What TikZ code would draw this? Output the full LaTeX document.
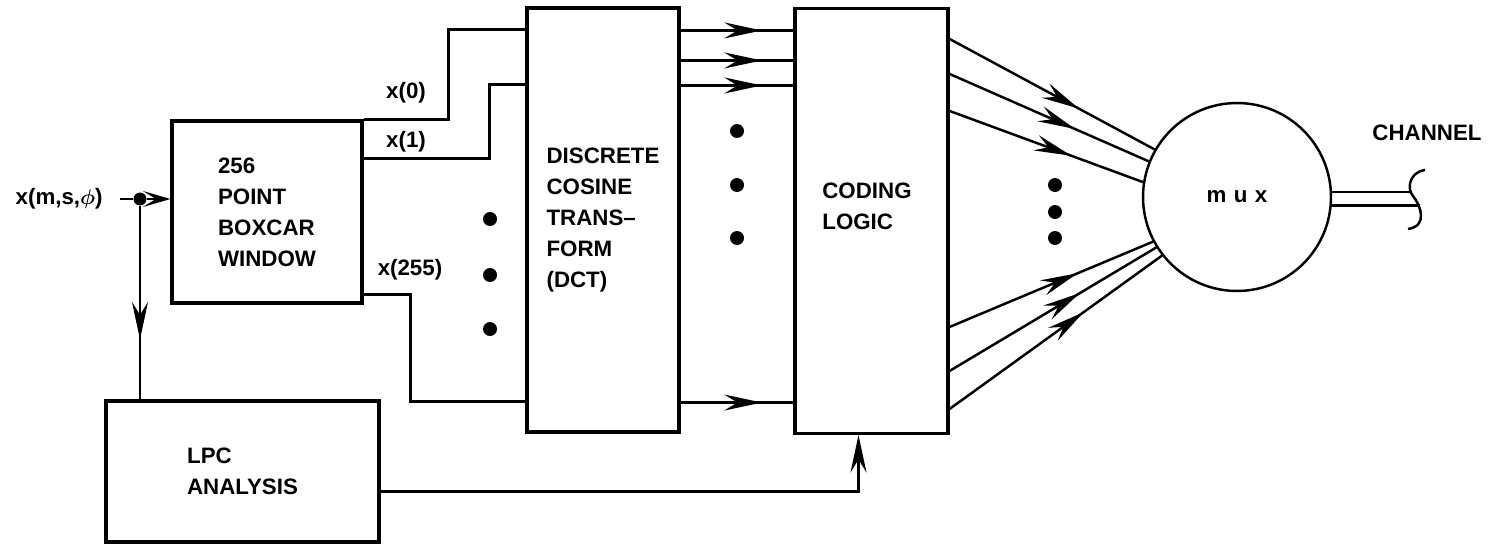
\documentclass[tikz,border=0pt]{standalone}
\usepackage{fontspec}
\setmainfont{Liberation Sans}
\usepackage{amsmath}
\usepackage{tikz}
\usetikzlibrary{arrows.meta,calc,decorations.markings}
\tikzset{
  blk/.style={draw, line width=1.8pt, align=left, inner sep=0pt,
              font=\fontsize{12.7}{17.6}\selectfont\bfseries},
  lbl/.style={inner sep=0pt, align=left, font=\fontsize{12.7}{17.6}\selectfont\bfseries},
  wire/.style={line width=1.4pt},
  endtip/.style={-{Stealth[length=#1,width=3.2mm,inset=2.6mm]}},
  endtip/.default=7.5mm,
  midtip/.style={postaction={decorate},
                 decoration={markings, mark=at position #1 with
                   {\arrow{Stealth[length=7.5mm,width=3.2mm,inset=2.6mm]}}}},
  dot/.style={circle, fill, inner sep=0pt, minimum size=0.28cm}
}

\begin{document}
\begin{tikzpicture}[x=0.02cm,y=-0.02cm]
  \useasboundingbox (0,0) rectangle (1497,544);

  \node[blk, minimum width=3.8cm, minimum height=3.64cm] (win) at (267,212)
    {256\\POINT\\BOXCAR\\WINDOW};
  \node[blk, minimum width=5.46cm, minimum height=2.82cm] (lpc) at (242.5,471.5)
    {LPC\\ANALYSIS};
  \node[blk, minimum width=3.04cm, minimum height=8.48cm] (dct) at (603,220)
    {DISCRETE\\COSINE\\TRANS--\\FORM\\(DCT)};
  \node[blk, minimum width=3.06cm, minimum height=8.5cm] (code) at (871.5,221) {};
  \node[lbl] (codetxt) at (867,206) {CODING\\LOGIC};
  \node[lbl, draw, circle, line width=1.4pt, minimum size=3.76cm] (mux) at (1237,197)
    {m\,\,u\,\,x};

  \node[lbl, anchor=east] (src) at (103,199) {x(m,s,$\boldsymbol{\phi}$)};
  \coordinate (feed) at (120,199);
  \node[dot, minimum size=0.26cm] (split) at (140,199) {};
  \draw[wire, endtip=5.5mm] (feed) -- (split) -- (split -| win.west);
  \draw[wire, midtip=0.69] (split) -- (split |- lpc.north);

  \draw[wire] (win.north east) -- ++(85,0) |- ($(dct.north west)+(0,23)$);
  \draw[wire] ($(win.north east)+(0,39)$) -- ++(126,0) |- ($(dct.north west)+(0,78)$);
  \draw[wire] ($(win.south east)+(0,-10)$) -- ++(47,0) |- ($(dct.south west)+(0,-32)$);
  \node[lbl] (x0) at (406,93) {x(0)};
  \node[lbl] (x1) at (406,142) {x(1)};
  \node[lbl] (x255) at (410,270) {x(255)};
  \foreach \y in {219,275,329}
    \node[dot] (ldot\y) at (490,\y) {};

  \foreach \y in {24,54,79}
    \draw[wire, midtip=0.72] ($(dct.north east)+(0,\y)$) coordinate (o) -- (o -| code.west);
  \draw[wire, midtip=0.72] ($(dct.south east)+(0,-31)$) coordinate (o) -- (o -| code.west);
  \foreach \y in {131,185,238}
    \node[dot] (cdot\y) at (737,\y) {};

  \foreach \o/\a in {32/150,67/158,104/171,320/208,364/212,402/218}
    \draw[wire, midtip=0.63] ($(code.north east)+(0,\o)$) -- (mux.\a);
  \foreach \y in {185,212,238}
    \node[dot] (mdot\y) at (1055,\y) {};

  \draw[wire, endtip] ($(lpc.east)+(0,20)$) -| ($(code.south)+(-13,0)$);

  \draw[wire] (mux.3) -- ++(80,0) coordinate (ch1);
  \draw[wire] (mux.-5) -- ++(88,0) coordinate (ch2);
  \draw[wire] (1425,170) .. controls (1410,172) and (1406,188) .. (1413,196)
    .. controls (1421,206) and (1428,226) .. (1408,229);
  \node[lbl] (chan) at (1427,133) {CHANNEL};
\end{tikzpicture}
\end{document}
